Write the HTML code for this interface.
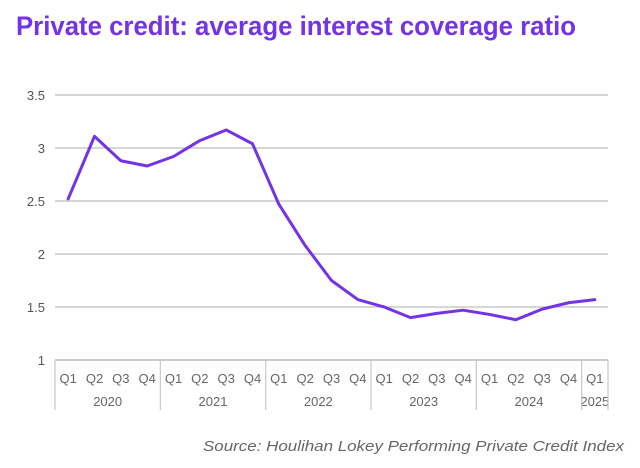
<!DOCTYPE html>
<html><head><meta charset="utf-8"><style>
body{margin:0;background:#fff}
svg{display:block;font-family:"Liberation Sans",sans-serif}
</style></head><body>
<svg width="640" height="468" viewBox="0 0 640 468">
<text x="16" y="35" font-size="27" font-weight="bold" fill="#7433e6" textLength="560" lengthAdjust="spacingAndGlyphs">Private credit: average interest coverage ratio</text>
<g id="grid"></g>
<g id="xaxis"></g>
<polyline id="line" fill="none" stroke="#7433e6" stroke-width="3" stroke-linejoin="round" stroke-linecap="round"/>
<text x="203" y="451" font-size="15" font-style="italic" fill="#666" textLength="421" lengthAdjust="spacingAndGlyphs">Source: Houlihan Lokey Performing Private Credit Index</text>
</svg>
<script>
const quarters=["Q1","Q2","Q3","Q4","Q1","Q2","Q3","Q4","Q1","Q2","Q3","Q4","Q1","Q2","Q3","Q4","Q1","Q2","Q3","Q4","Q1"];
const years=["2020","2021","2022","2023","2024","2025"];
const values=[2.52,3.11,2.88,2.83,2.92,3.07,3.17,3.04,2.47,2.08,1.75,1.57,1.50,1.40,1.44,1.47,1.43,1.38,1.48,1.54,1.57];
const yTicks=[1,1.5,2,2.5,3,3.5];
const NS="http://www.w3.org/2000/svg";
const x0=55,x1=608,y0=360,y1=95,vmin=1,vmax=3.5;
const bw=(x1-x0)/quarters.length;
const X=i=>x0+bw*(i+0.5);
const Y=v=>y0-(v-vmin)/(vmax-vmin)*(y0-y1);
function mk(tag,attrs,parent){const e=document.createElementNS(NS,tag);for(const k in attrs)e.setAttribute(k,attrs[k]);parent.appendChild(e);return e;}
const grid=document.getElementById('grid'),xa=document.getElementById('xaxis');
yTicks.forEach(t=>{
  const l=mk('line',{x1:x0,x2:x1,y1:Y(t),y2:Y(t),stroke:t===1?'#bbb':'#c8c8c8','stroke-width':1.5},grid);
  
  
  const tx=mk('text',{x:45,y:Y(t)+5,'font-size':13,fill:'#555','text-anchor':'end'},grid);
  tx.textContent=t;
  
  
});
quarters.forEach((q,i)=>{
  const tx=mk('text',{x:X(i),y:383,'font-size':13,fill:'#666','text-anchor':'middle'},xa);
  tx.textContent=q;
  
  
});
years.forEach((yr,j)=>{
  const s=j*4,e=Math.min(s+4,quarters.length);
  const tx=mk('text',{x:x0+bw*(s+e)/2,y:406,'font-size':13,fill:'#666','text-anchor':'middle'},xa);
  tx.textContent=yr;
  
  
  const l=mk('line',{x1:x0+bw*s,x2:x0+bw*s,y1:y0,y2:410,stroke:'#c8c8c8','stroke-width':1.2},xa);
  
  
});
const le=mk('line',{x1:x1,x2:x1,y1:y0,y2:410,stroke:'#c8c8c8','stroke-width':1.2},xa);


document.getElementById('line').setAttribute('points',values.map((v,i)=>X(i)+','+Y(v)).join(' '));
</script>
</body></html>
